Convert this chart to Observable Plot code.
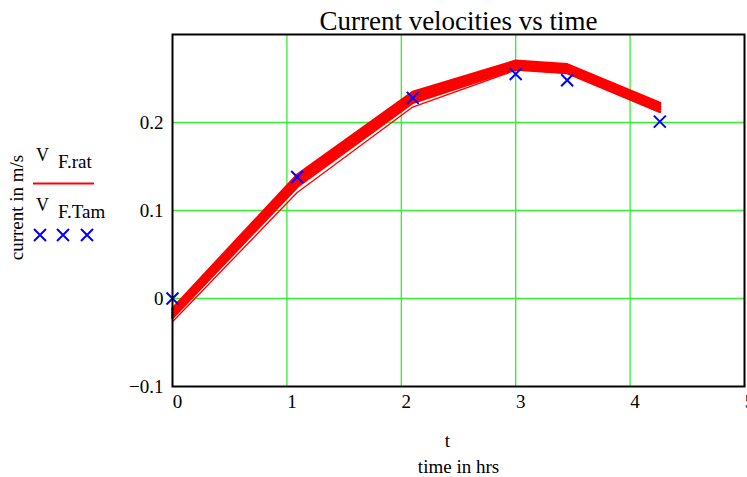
<!DOCTYPE html>
<html>
<head>
<meta charset="utf-8">
<script src="https://cdn.jsdelivr.net/npm/d3@7"></script>
<script src="https://cdn.jsdelivr.net/npm/@observablehq/plot@0.6"></script>
<style>
  body { margin: 0; background: #fff; }
  svg text { font-family: "Liberation Serif", "Times New Roman", serif; }
</style>
</head>
<body>
<div id="chart"></div>
<script>
// Sample times (hours) shared by the model runs and the measurements
const hours = [0, 1.09, 2.1, 3.0, 3.45, 4.26];

// Modelled velocity V_F.rat, one array per run (m/s)
const ratRunA = [-0.0115, 0.1405, 0.2345, 0.2700, 0.2660, 0.2220];
const ratRunB = [-0.0135, 0.1380, 0.2320, 0.2680, 0.2640, 0.2200];
const ratRunC = [-0.0160, 0.1355, 0.2295, 0.2660, 0.2620, 0.2180];
const ratRunD = [-0.0180, 0.1330, 0.2270, 0.2645, 0.2605, 0.2165];
const ratRunE = [-0.0200, 0.1300, 0.2250, 0.2630, 0.2590, 0.2150];
const ratRunF = [-0.0220, 0.1270, 0.2225, 0.2610, 0.2570, 0.2125];
const ratRunG = [-0.0265, 0.1205, 0.2175, 0.2595, 0.2555, 0.2115];

// Measured velocity V_F.Tam (m/s)
const tamVelocity = [0, 0.138, 0.228, 0.255, 0.248, 0.201];

// Axis ticks
const xTicks = [0, 1, 2, 3, 4, 5];
const yTicks = [-0.1, 0, 0.1, 0.2];
const xGrid = [1, 2, 3, 4];
const yGrid = [0, 0.1, 0.2];

const bandRuns = [ratRunA, ratRunB, ratRunC, ratRunD, ratRunE, ratRunF];
const bandRows = bandRuns.flatMap((vals, run) => vals.map((v, i) => ({t: hours[i], v, run})));
const thinRows = ratRunG.map((v, i) => ({t: hours[i], v}));
const tamRows = tamVelocity.map((v, i) => ({t: hours[i], v}));

const fmtY = d => d === 0 ? "0" : d3.format(".1f")(d).replace("-", "\u2212");
const serif = "'Liberation Serif', 'Times New Roman', serif";

const plot = Plot.plot({
  width: 747,
  height: 477,
  marginLeft: 172,
  marginRight: 3,
  marginTop: 34,
  marginBottom: 91,
  style: {fontFamily: serif, fontSize: "19px", background: "white", color: "black", overflow: "visible"},
  x: {domain: [0, 5]},
  y: {domain: [-0.1, 0.3]},
  marks: [
    Plot.gridX(xGrid, {stroke: "#33ee33", strokeOpacity: 1, strokeWidth: 1.3}),
    Plot.gridY(yGrid, {stroke: "#33ee33", strokeOpacity: 1, strokeWidth: 1.3}),
    Plot.line(thinRows, {x: "t", y: "v", stroke: "red", strokeWidth: 1.3}),
    Plot.line(bandRows, {x: "t", y: "v", z: "run", stroke: "red", strokeWidth: 2.8}),
    Plot.dot(tamRows, {x: "t", y: "v", symbol: "times", r: 5.5, stroke: "blue", strokeWidth: 2}),
    Plot.frame({stroke: "black", strokeWidth: 2}),
    Plot.axisX(xTicks, {tickSize: 0, tickPadding: 8, dx: 5, label: null, fontSize: 19, tickFormat: d => String(d)}),
    Plot.axisY(yTicks, {tickSize: 0, tickPadding: 9, label: null, fontSize: 19, tickFormat: fmtY}),
    Plot.text(["Current velocities vs time"], {frameAnchor: "top", lineAnchor: "bottom", dy: -5, fontSize: 27}),
    Plot.text(["t"], {frameAnchor: "bottom", lineAnchor: "bottom", dx: -11, dy: 60, fontSize: 19}),
    Plot.text(["time in hrs"], {frameAnchor: "bottom", lineAnchor: "bottom", dy: 86, fontSize: 19}),
    Plot.text(["current in m/s"], {frameAnchor: "left", textAnchor: "middle", rotate: -90, dx: -156, dy: -3, fontSize: 19})
  ]
});

document.getElementById("chart").appendChild(plot);

// Legend to the left of the plot
const svg = d3.select(plot);
const legend = svg.append("g")
  .attr("font-family", serif)
  .attr("text-anchor", "start")
  .attr("fill", "black");
legend.append("text").attr("x", 36).attr("y", 161).attr("font-size", 18).text("V");
legend.append("text").attr("x", 58).attr("y", 168).attr("font-size", 19).text("F.rat");
legend.append("line").attr("x1", 33).attr("x2", 94).attr("y1", 183.5).attr("y2", 183.5)
  .attr("stroke", "red").attr("stroke-width", 1.8);
legend.append("text").attr("x", 36).attr("y", 211).attr("font-size", 18).text("V");
legend.append("text").attr("x", 58).attr("y", 218).attr("font-size", 19).text("F.Tam");
[40, 63, 87].forEach(cx => {
  legend.append("path")
    .attr("d", `M${cx - 6},229L${cx + 6},241M${cx + 6},229L${cx - 6},241`)
    .attr("stroke", "blue").attr("stroke-width", 2).attr("fill", "none");
});
</script>
</body>
</html>
